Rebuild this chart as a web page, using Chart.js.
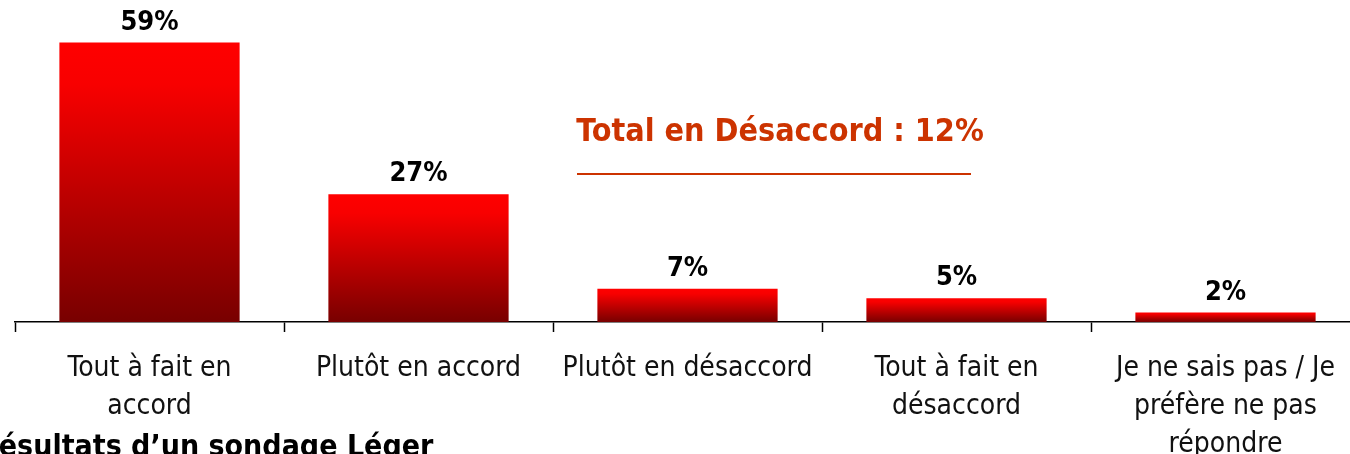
<!DOCTYPE html>
<html lang="fr">
<head>
<meta charset="utf-8">
<title>Sondage Léger</title>
<script src="https://cdn.jsdelivr.net/npm/chart.js@4.4.1/dist/chart.umd.min.js"></script>
<style>
  html, body { margin: 0; padding: 0; background: #fff; overflow: hidden; }
  #wrap { width: 1365px; height: 454px; }
</style>
</head>
<body>
<div id="wrap"><canvas id="chart" width="1365" height="454"></canvas></div>
<script>
// Data
const categories = [
  ["Tout à fait en", "accord"],
  "Plutôt en accord",
  "Plutôt en désaccord",
  ["Tout à fait en", "désaccord"],
  ["Je ne sais pas / Je", "préfère ne pas", "répondre"],
];
const values = [59, 27, 7, 5, 2];
const valueLabels = ["59%", "27%", "7%", "5%", "2%"];
const totalText = "Total en Désaccord : 12%";
const sourceText = "Résultats d’un sondage Léger";

const FONT = "'DejaVu Sans Condensed', 'DejaVu Sans', Verdana, sans-serif";
const ORANGE = "#cc3300";

// gradient per bar: bright red on top, dark red at the base
function barGradient(context) {
  const chart = context.chart;
  if (!chart.chartArea || !chart.scales.y) return "#e00000";
  const yScale = chart.scales.y;
  const top = yScale.getPixelForValue(values[context.dataIndex]);
  const base = yScale.getPixelForValue(0);
  if (!isFinite(top) || base - top < 1) return "#d00000";
  const g = chart.ctx.createLinearGradient(0, top, 0, base);
  g.addColorStop(0, "#ff0000");
  g.addColorStop(0.15, "#f80000");
  g.addColorStop(1, "#780000");
  return g;
}

const decorPlugin = {
  id: "decor",
  afterDatasetsDraw(chart) {
    const { ctx } = chart;
    const meta = chart.getDatasetMeta(0);
    ctx.save();
    ctx.fillStyle = "#000";
    ctx.font = `bold 27px ${FONT}`;
    ctx.textAlign = "center";
    ctx.textBaseline = "alphabetic";
    meta.data.forEach((bar, i) => {
      ctx.fillText(valueLabels[i], bar.x, bar.y - 13);
    });

    // "Total en Désaccord" callout
    ctx.fillStyle = ORANGE;
    ctx.font = `bold 32px ${FONT}`;
    ctx.fillText(totalText, 780, 141);
    ctx.strokeStyle = ORANGE;
    ctx.lineWidth = 2;
    ctx.beginPath();
    ctx.moveTo(577, 174);
    ctx.lineTo(971, 174);
    ctx.stroke();

    // source line, cut off at left and bottom
    ctx.fillStyle = "#000";
    ctx.textAlign = "left";
    ctx.font = `bold 30px ${FONT}`;
    ctx.fillText(sourceText, -22, 456);
    ctx.restore();
  },
};

new Chart(document.getElementById("chart"), {
  type: "bar",
  data: {
    labels: categories,
    datasets: [
      {
        data: values,
        backgroundColor: barGradient,
        borderWidth: 0,
        categoryPercentage: 1,
        barPercentage: 0.67,
      },
    ],
  },
  options: {
    responsive: false,
    animation: false,
    events: [],
    layout: { padding: { left: 15, right: 5, top: 0, bottom: 0 } },
    plugins: {
      legend: { display: false },
      tooltip: { enabled: false },
      title: { display: false },
    },
    scales: {
      x: {
        offset: true,
        border: { display: true, color: "#000", width: 1.5 },
        grid: {
          offset: true,
          drawOnChartArea: false,
          drawTicks: true,
          tickLength: 10,
          tickWidth: 1.5,
          tickColor: "#000",
          color: "#000",
        },
        ticks: {
          color: "#111",
          padding: 18,
          maxRotation: 0,
          autoSkip: false,
          font: { family: FONT, size: 28, lineHeight: 1.35 },
        },
        afterFit(scale) {
          scale.height = 132;
        },
      },
      y: {
        display: false,
        min: 0,
        max: 68,
      },
    },
  },
  plugins: [decorPlugin],
});
</script>
</body>
</html>
